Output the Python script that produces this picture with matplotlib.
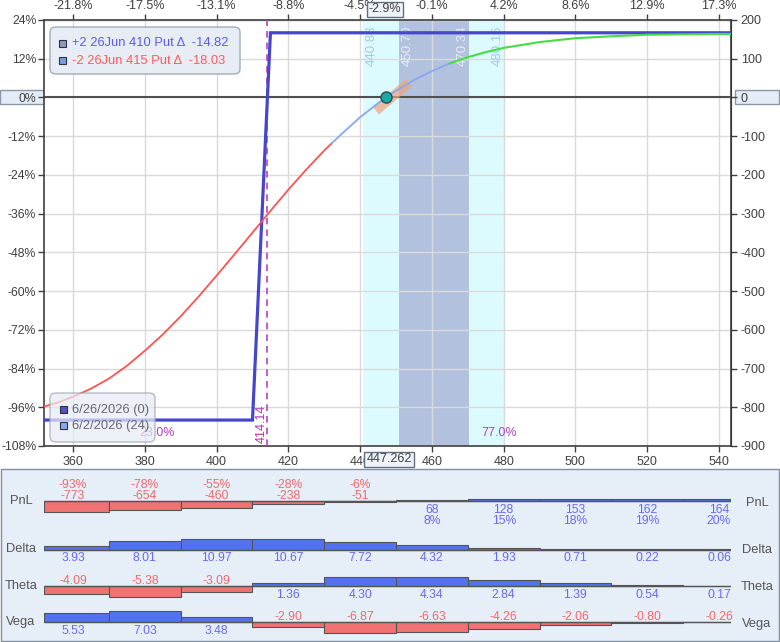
import matplotlib
matplotlib.use('Agg')
import matplotlib.pyplot as plt
from matplotlib.patches import Rectangle, FancyBboxPatch
import matplotlib.transforms as mtransforms
import numpy as np

plt.rcParams['font.family'] = ['Liberation Sans', 'DejaVu Sans']

# ---------------- data ----------------
x_ticks = [360, 380, 400, 420, 440, 460, 480, 500, 520, 540]
top_labels = ["-21.8%", "-17.5%", "-13.1%", "-8.8%", "-4.5%", "-0.1%", "4.2%", "8.6%", "12.9%", "17.3%"]
y_ticks = [200, 100, 0, -100, -200, -300, -400, -500, -600, -700, -800, -900]
left_labels = ["24%", "12%", "0%", "-12%", "-24%", "-36%", "-48%", "-60%", "-72%", "-84%", "-96%", "-108%"]
right_labels = ["200", "100", "0", "-100", "-200", "-300", "-400", "-500", "-600", "-700", "-800", "-900"]

# expiry (6/26/2026) P&L
exp_x = [351.9, 410, 415, 543.35]
exp_y = [-833, -833, 167, 167]

# T+0 (6/2/2026, 24 DTE) P&L
t0_x = [351.9, 356, 360, 365, 370, 375, 380, 385, 390, 395, 400, 405, 410, 415, 420, 425, 430, 432,
        435, 440, 445, 447.262, 450, 455, 460, 465, 470, 475, 480, 490, 500, 510, 520, 530, 540, 543.35]
t0_y = [-798, -787, -773, -752, -726, -693, -654, -612, -565, -514, -460, -405, -349, -293, -238, -186, -137, -119,
        -93, -51, -15, 0, 17, 45, 68, 88, 104, 117, 128, 143, 153, 158, 162, 163, 164, 164]

current_price = 447.262
breakeven = 414.14
outer_range = (440.88, 480.16)
inner_range = (450.70, 470.34)
prob_below = "23.0%"
prob_above = "77.0%"

legend_legs = ["+2 26Jun 410 Put \u0394  -14.82", "-2 26Jun 415 Put \u0394  -18.03"]
legend_dates = ["6/26/2026 (0)", "6/2/2026 (24)"]

# table
tbl_x = [360, 380, 400, 420, 440, 460, 480, 500, 520, 540]
tbl_edges = [351.9, 370, 390, 410, 430, 450, 470, 490, 510, 530, 543.35]
pnl = [-773, -654, -460, -238, -51, 68, 128, 153, 162, 164]
pnl_pct = ["-93%", "-78%", "-55%", "-28%", "-6%", "8%", "15%", "18%", "19%", "20%"]
delta = [3.93, 8.01, 10.97, 10.67, 7.72, 4.32, 1.93, 0.71, 0.22, 0.06]
theta = [-4.09, -5.38, -3.09, 1.36, 4.30, 4.34, 2.84, 1.39, 0.54, 0.17]
vega = [5.53, 7.03, 3.48, -2.90, -6.87, -6.63, -4.26, -2.06, -0.80, -0.26]

# ---------------- figure ----------------
W, H = 780, 642
fig = plt.figure(figsize=(W / 100, H / 100), dpi=100)
fig.patch.set_facecolor('white')

def fx(x):
    return x / W

def fy(y):
    return 1 - y / H

XL = (351.9, 543.35)
tick_col = '#404040'
FS = 9

ax = fig.add_axes([fx(44), fy(446), (731 - 44) / W, (446 - 20) / H])
ax.set_xlim(*XL)
ax.set_ylim(-900, 200)
ax.set_xticks(x_ticks)
ax.set_yticks(y_ticks)
ax.set_yticklabels(left_labels)
ax.grid(True, color='#dadada', lw=1)
ax.set_axisbelow(True)
for s in ax.spines.values():
    s.set_color('#404040')
    s.set_linewidth(1.2)
ax.tick_params(axis='x', colors=tick_col, labelsize=FS, length=4, width=1, pad=3)
ax.tick_params(axis='y', colors=tick_col, labelsize=8.8, length=4, width=1, pad=1.5)

secx = ax.secondary_xaxis('top')
secx.set_xticks(x_ticks, labels=top_labels)
secx.tick_params(colors=tick_col, labelsize=FS, length=4, width=1, pad=2)
secy = ax.secondary_yaxis('right')
secy.set_yticks(y_ticks, labels=right_labels)
secy.tick_params(colors=tick_col, labelsize=FS, length=4, width=1, pad=3)

# shaded ranges
ax.axvspan(*outer_range, color='#dcfbff', zorder=0.2, lw=0)
ax.axvspan(*inner_range, color='#b2c2de', zorder=0.3, lw=0)

ax.axhline(0, color='#505050', lw=1.5, zorder=2)
ax.axvline(breakeven, color='#c040c0', ls=(0, (4, 3)), lw=1.2, zorder=3)

ax.plot(exp_x, exp_y, color='#4646cc', lw=2.3, zorder=4, solid_joinstyle='miter')

# tangent band at current price
ax.plot([444.4, 453.6], [-34, 38], color='#f2a27c', lw=7, alpha=0.7, solid_capstyle='butt', zorder=4.5)

t0x = np.array(t0_x)
t0y = np.array(t0_y)
m_red = t0x <= 432
m_blue = (t0x >= 432) & (t0x <= 465)
m_green = t0x >= 465
ax.plot(t0x[m_red], t0y[m_red], color='#ff5252', lw=1.3, zorder=5)
ax.plot(t0x[m_blue], t0y[m_blue], color='#86a8ee', lw=1.3, zorder=5)
ax.plot(t0x[m_green], t0y[m_green], color='#44dd44', lw=1.5, zorder=5)

ax.plot([current_price], [0], 'o', ms=8, mfc='#20a8a0', mec='#1f4f55', mew=1, zorder=6)

# range labels
bt = mtransforms.blended_transform_factory(ax.transData, ax.transAxes)
for xv, txt, col in [(443.3, "440.88", '#a8ccdc'), (453.3, "450.70", '#e6ecf6'),
                     (468.7, "470.34", '#e6ecf6'), (478.4, "480.16", '#a8ccdc')]:
    ax.text(xv, 0.988, txt, rotation=90, ha='center', va='top', fontsize=9.5, color=col,
            transform=bt, zorder=3)
ax.text(412.6, 0.006, "414.14", rotation=90, ha='center', va='bottom', fontsize=FS,
        color='#b030b0', transform=bt, zorder=3)
ax.text(383.4, 0.0305, prob_below, ha='center', va='center', fontsize=FS, color='#b040c0',
        transform=bt, zorder=3)
ax.text(478.7, 0.0315, prob_above, ha='center', va='center', fontsize=FS, color='#b040c0',
        transform=bt, zorder=3)

# boxed labels on axes
def fig_box(x0, y0, x1, y1, fc, ec, z=-1, lw=1):
    fig.patches.append(Rectangle((fx(x0), fy(y1)), fx(x1) - fx(x0), fy(y0) - fy(y1),
                                 transform=fig.transFigure, facecolor=fc, edgecolor=ec,
                                 lw=lw, zorder=z))

fig_box(0, 90, 44, 104, '#e4edf7', '#8a98a8')
fig_box(735, 90, 779, 104, '#e4edf7', '#8a98a8')

fig.text(fx(389), fy(459.5), "447.262", ha='center', va='center', fontsize=FS, color=tick_col,
         bbox=dict(boxstyle='square,pad=0.15', fc='#eef3f9', ec='#607080', lw=1), zorder=10)
fig.text(fx(385), fy(9.5), "-2.9%", ha='center', va='center', fontsize=FS, color=tick_col,
         bbox=dict(boxstyle='square,pad=0.15', fc='#eef3f9', ec='#607080', lw=1), zorder=10)

# legends
def legend_box(x0, y0, x1, y1, alpha):
    fig.patches.append(FancyBboxPatch((fx(x0), fy(y1)), fx(x1) - fx(x0), fy(y0) - fy(y1),
                                      boxstyle='round,pad=0,rounding_size=0.008',
                                      transform=fig.transFigure, facecolor='#e6ecf4',
                                      edgecolor='#9aa4b0', lw=1, alpha=alpha, zorder=8))

def legend_square(x, y, col):
    fig.patches.append(Rectangle((fx(x - 3.5), fy(y + 3.5)), 7 / W, 7 / H, transform=fig.transFigure,
                                 facecolor=col, edgecolor='#303040', lw=0.8, zorder=9))

legend_box(50, 27, 240, 74, 0.9)
legend_square(62, 43, '#8a98c4')
legend_square(62, 60, '#7c9ce0')
fig.text(fx(72), fy(43.5), legend_legs[0], ha='left', va='center', fontsize=9.3, color='#5a5af0', zorder=9)
fig.text(fx(72), fy(60.5), legend_legs[1], ha='left', va='center', fontsize=9.3, color='#ff5a5a', zorder=9)

legend_box(50, 393, 155, 442, 0.72)
legend_square(63, 409, '#5252bc')
legend_square(63, 425, '#88aaee')
fig.text(fx(72), fy(409.5), legend_dates[0], ha='left', va='center', fontsize=9.3, color='#656a72', zorder=9)
fig.text(fx(72), fy(425.5), legend_dates[1], ha='left', va='center', fontsize=9.3, color='#656a72', zorder=9)

# ---------------- table panel ----------------
fig_box(1, 469, 779, 641, '#e6eef7', '#8090a0', z=-2)

tax = fig.add_axes([fx(44), fy(641), (731 - 44) / W, (641 - 469) / H])
tax.set_xlim(*XL)
tax.set_ylim(641, 469)
tax.axis('off')
tax.patch.set_alpha(0)

red_fill, blue_fill = '#f07272', '#5272ee'
red_txt, blue_txt = '#f06a6a', '#6a6af2'
edges = np.array(tbl_edges)
lefts = edges[:-1]
widths = np.diff(edges)
TFS = 8.7

rows = [("PnL", pnl, 501, 503), ("Delta", delta, 549.5, 550), ("Theta", theta, 586, 587), ("Vega", vega, 622, 624)]
for name, vals, base, rlab in rows:
    v = np.array(vals, dtype=float)
    scale = 11.0 / np.abs(v).max()
    hts = -v * scale
    cols = [red_fill if a < 0 else blue_fill for a in v]
    tax.bar(lefts, hts, width=widths, bottom=base, align='edge', color=cols,
            edgecolor='#555555', lw=0.8, zorder=2)
    tax.hlines(base, XL[0], XL[1], color='#555555', lw=1, zorder=3)
    for i, (xc, a) in enumerate(zip(tbl_x, vals)):
        if name == "PnL":
            if a < 0:
                tax.text(xc, base - 16, pnl_pct[i], ha='center', va='center', fontsize=TFS, color=red_txt)
                tax.text(xc, base - 5, f"{a:d}", ha='center', va='center', fontsize=TFS, color=red_txt)
            else:
                tax.text(xc, base + 9, f"{a:d}", ha='center', va='center', fontsize=TFS, color=blue_txt)
                tax.text(xc, base + 20, pnl_pct[i], ha='center', va='center', fontsize=TFS, color=blue_txt)
        else:
            if a < 0:
                tax.text(xc, base - 5, f"{a:.2f}", ha='center', va='center', fontsize=TFS, color=red_txt)
            else:
                tax.text(xc, base + 8.5, f"{a:.2f}", ha='center', va='center', fontsize=TFS, color=blue_txt)
    fig.text(fx(21), fy(base), name, ha='center', va='center', fontsize=9.3, color='#555555')
    fig.text(fx(757), fy(rlab), name, ha='center', va='center', fontsize=9.3, color='#555555')

fig.savefig('out.png', dpi=100)
